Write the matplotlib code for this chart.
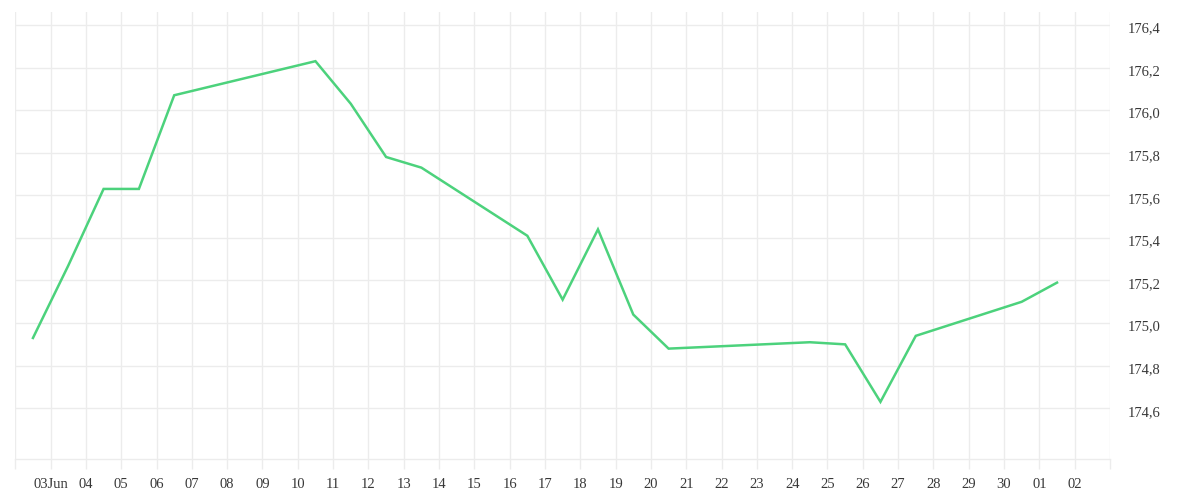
import matplotlib
matplotlib.use("Agg")
import matplotlib.pyplot as plt
import matplotlib.dates as mdates
import matplotlib.transforms as mtransforms
import pandas as pd

dates = ["2023-06-02 12:00", "2023-06-03 12:00", "2023-06-04 12:00", "2023-06-05 12:00",
         "2023-06-06 12:00", "2023-06-10 12:00", "2023-06-11 12:00", "2023-06-12 12:00",
         "2023-06-13 12:00", "2023-06-16 12:00", "2023-06-17 12:00", "2023-06-18 12:00",
         "2023-06-19 12:00", "2023-06-20 12:00", "2023-06-24 12:00", "2023-06-25 12:00",
         "2023-06-26 12:00", "2023-06-27 12:00", "2023-06-30 12:00", "2023-07-01 12:00"]
values = [174.93, 175.27, 175.63, 175.63, 176.07, 176.23, 176.03, 175.78,
          175.73, 175.41, 175.11, 175.44, 175.04, 174.88, 174.91, 174.90,
          174.63, 174.94, 175.10, 175.19]
y_ticks = [174.6, 174.8, 175.0, 175.2, 175.4, 175.6, 175.8, 176.0, 176.2, 176.4]

x = pd.to_datetime(dates)

grid_c = "#ececec"
text_c = "#383838"
font = ["Liberation Serif", "DejaVu Serif"]

fig = plt.figure(figsize=(12, 5), dpi=100)
ax = fig.add_axes([0.01275, 0.0826, 0.925 - 0.01275, 0.976 - 0.0826])

ax.plot(x, values, color="#4cd27c", linewidth=1.8, solid_joinstyle="miter", zorder=3)

ax.set_xlim(pd.Timestamp("2023-06-02"), pd.Timestamp("2023-07-03"))
ax.set_ylim(174.363, 176.461)

ax.xaxis.set_major_locator(mdates.DayLocator())
def fmt(v, pos):
    d = mdates.num2date(v)
    if (d.month == 6 and d.day == 2) or (d.month == 7 and d.day == 3):
        return ""
    if d.month == 6 and d.day == 3:
        return "03Jun"
    return d.strftime("%d")
ax.xaxis.set_major_formatter(plt.FuncFormatter(fmt))

ax.set_yticks(y_ticks)
ax.set_yticklabels([f"{v:.1f}".replace(".", ",") for v in y_ticks])
ax.yaxis.tick_right()

ax.grid(True, color=grid_c, linewidth=1.0, zorder=0)
for s in ["top", "left", "right"]:
    ax.spines[s].set_visible(False)
ax.spines["bottom"].set_color(grid_c)
ax.spines["bottom"].set_linewidth(1.0)

ax.tick_params(axis="x", length=7, width=1.0, color=grid_c, pad=7,
               labelsize=10.5, labelcolor=text_c)
ax.tick_params(axis="y", length=0, pad=13, labelsize=10.5, labelcolor=text_c)
for lab in ax.get_xticklabels() + ax.get_yticklabels():
    lab.set_family(font)

offset = mtransforms.ScaledTranslation(0, -2.5 / 100, fig.dpi_scale_trans)
for lab in ax.get_yticklabels():
    lab.set_transform(lab.get_transform() + offset)

fig.savefig("out.png", dpi=100, facecolor="white")
